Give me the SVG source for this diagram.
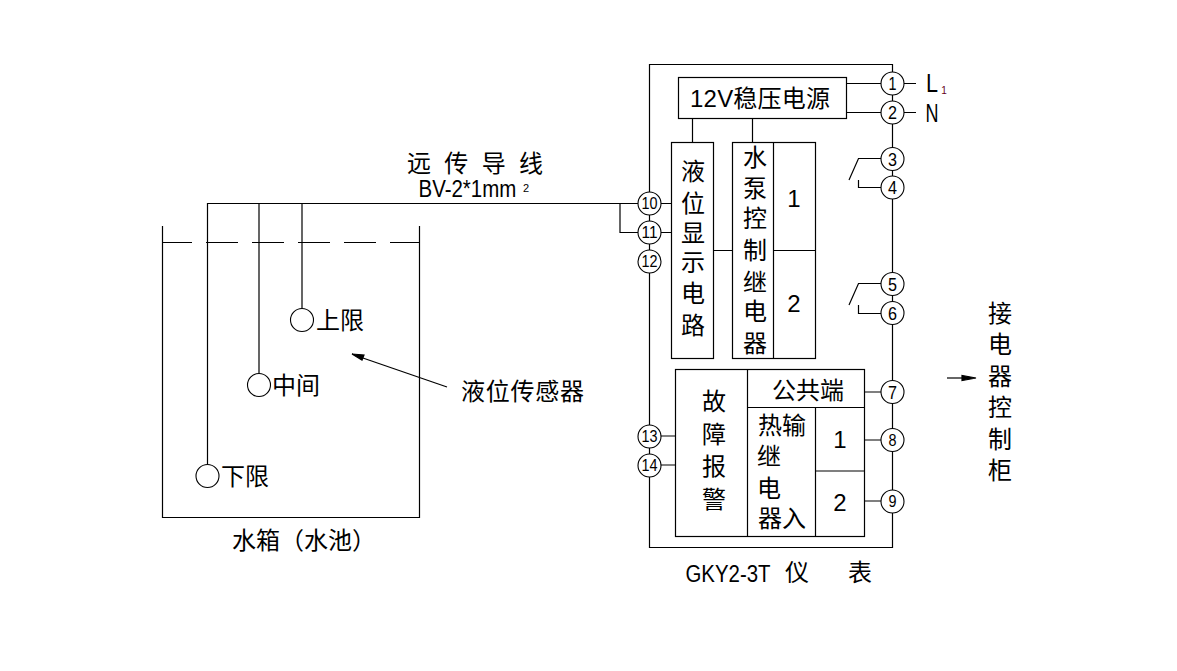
<svg xmlns="http://www.w3.org/2000/svg" width="1177" height="671" viewBox="0 0 1177 671">
<style>
.l{fill:none;stroke:#000;stroke-width:1.2}
.b{fill:#fff;stroke:#000;stroke-width:1.2}
.c{fill:#fff;stroke:#000;stroke-width:1.1}
text{font-family:"Liberation Sans","Noto Sans CJK SC",sans-serif;fill:#000;font-size:24px;text-anchor:middle}
.n{font-size:19px}
.s{font-size:16px}
</style>
<rect width="1177" height="671" fill="#fff"/>
<g id="connectors" class="l">
<path d="M649.500 64.500H892.500V547.500H649.500Z"/>
<path d="M846 83.500H881M846 112.500H881M903 83.500H916M903 112.500H916"/>
<path d="M692.500 118V142M752.500 118V142M713 250.500H732"/>
<path d="M207.500 464V203.500H638M259 373V203.500M302 308V203.500M620 203.500V232.500H638"/>
<path d="M660 203.500H671M660 232.500H671"/>
<path d="M881 158.500H858.500L849 180M858.500 180V187.500H881M881 283.500H858.500L849 305M858.500 305V313.500H881"/>
<path d="M660 436H682L693 460M660 465H682M682 461V465"/>
<path d="M864 392H881M864 440H881M864 501H881"/>
<path d="M447 387L360 357"/>
<path d="M947 378H966"/>
<path d="M162.500 226V517.500H419.500V226"/>
<path d="M162.500 242.500H192M206 242.500H238M252 242.500H284M298 242.500H330M344 242.500H376M390 242.500H419"/>
<path d="M352 354L364 355L362 360Z" fill="#000"/>
<path d="M976 378L962 375.500V380.500Z" fill="#000"/>
</g>
<g id="power"><rect class="b" x="678.500" y="77.500" width="168" height="41"/><text x="760" y="107" textLength="140">12V稳压电源</text></g>
<g id="display"><rect class="b" x="671.500" y="142.500" width="42" height="216"/>
<text x="693" y="180">液</text><text x="693" y="212">位</text><text x="693" y="242">显</text><text x="693" y="271">示</text><text x="693" y="302">电</text><text x="693" y="334">路</text></g>
<g id="relay"><rect class="b" x="732.500" y="142.500" width="83" height="216"/>
<path class="l" d="M773.500 142.500V358.500M773.500 250.500H815.500"/>
<text x="755" y="166">水</text><text x="755" y="197">泵</text><text x="755" y="227">控</text><text x="755" y="259">制</text><text x="755" y="291">继</text><text x="755" y="320">电</text><text x="755" y="352">器</text>
<text x="794" y="207">1</text><text x="794" y="312">2</text></g>
<g id="alarm"><rect class="b" x="675.500" y="369.500" width="189" height="167"/>
<path class="l" d="M747.500 369.500V536.500M747.500 407.500H864.500M815.500 407.500V536.500M815.500 471H864.500"/>
<text x="714" y="410">故</text><text x="714" y="443">障</text><text x="714" y="475">报</text><text x="714" y="508">警</text>
<text x="808" y="399">公共端</text>
<text x="782" y="434">热输</text><text x="769" y="465">继</text><text x="769" y="497">电</text><text x="782" y="527">器入</text>
<text x="840" y="448">1</text><text x="840" y="511">2</text></g>
<g id="terminals">
<g id="t1"><circle class="c" cx="892.500" cy="83.500" r="11.500"/><text class="n" x="892.500" y="90" textLength="8" lengthAdjust="spacingAndGlyphs">1</text></g>
<g id="t2"><circle class="c" cx="892.500" cy="112.500" r="11.500"/><text class="n" x="892.500" y="119" textLength="9" lengthAdjust="spacingAndGlyphs">2</text></g>
<g id="t3"><circle class="c" cx="892.500" cy="159" r="11.500"/><text class="n" x="892.500" y="165.500" textLength="9" lengthAdjust="spacingAndGlyphs">3</text></g>
<g id="t4"><circle class="c" cx="892.500" cy="187.500" r="11.500"/><text class="n" x="892.500" y="194" textLength="9" lengthAdjust="spacingAndGlyphs">4</text></g>
<g id="t5"><circle class="c" cx="892.500" cy="284" r="11.500"/><text class="n" x="892.500" y="290.500" textLength="9" lengthAdjust="spacingAndGlyphs">5</text></g>
<g id="t6"><circle class="c" cx="892.500" cy="313" r="11.500"/><text class="n" x="892.500" y="319.500" textLength="9" lengthAdjust="spacingAndGlyphs">6</text></g>
<g id="t7"><circle class="c" cx="892.500" cy="392" r="11.500"/><text class="n" x="892.500" y="398.500" textLength="9" lengthAdjust="spacingAndGlyphs">7</text></g>
<g id="t8"><circle class="c" cx="892.500" cy="440" r="11.500"/><text class="s" x="892.500" y="445.500" textLength="8" lengthAdjust="spacingAndGlyphs">8</text></g>
<g id="t9"><circle class="c" cx="892.500" cy="501.500" r="11.500"/><text class="s" x="892.500" y="507" textLength="8" lengthAdjust="spacingAndGlyphs">9</text></g>
<g id="t10"><circle class="c" cx="649.500" cy="203.500" r="11.500"/><text class="s" x="649.500" y="209" textLength="16" lengthAdjust="spacingAndGlyphs">10</text></g>
<g id="t11"><circle class="c" cx="649.500" cy="232.500" r="11.500"/><text class="s" x="649.500" y="238" textLength="16" lengthAdjust="spacingAndGlyphs">11</text></g>
<g id="t12"><circle class="c" cx="649.500" cy="261.500" r="11.500"/><text class="s" x="649.500" y="267" textLength="16" lengthAdjust="spacingAndGlyphs">12</text></g>
<g id="t13"><circle class="c" cx="649.500" cy="436.500" r="11.500"/><text class="s" x="649.500" y="442" textLength="16" lengthAdjust="spacingAndGlyphs">13</text></g>
<g id="t14"><circle class="c" cx="649.500" cy="465.500" r="11.500"/><text class="s" x="649.500" y="471" textLength="16" lengthAdjust="spacingAndGlyphs">14</text></g>
</g>
<g id="sensors">
<g id="lower"><circle class="c" cx="207.500" cy="476" r="11.500"/><text x="245" y="485">下限</text></g>
<g id="middle"><circle class="c" cx="259" cy="385" r="11.500"/><text x="296" y="394">中间</text></g>
<g id="upper"><circle class="c" cx="302" cy="320" r="11.500"/><text x="340" y="329">上限</text></g>
</g>
<g id="labels">
<text x="475" y="172" textLength="136" lengthAdjust="spacing">远 传 导 线</text>
<text transform="translate(418.500 197) scale(0.89 1)" style="font-size:23px;text-anchor:start">BV-2*1mm</text>
<text x="526" y="192" style="font-size:11px">2</text>
<text x="522.500" y="400" textLength="123">液位传感器</text>
<text x="304" y="549">水箱（水池）</text>
<text x="932" y="92" style="font-size:25px" textLength="12" lengthAdjust="spacingAndGlyphs">L</text>
<text x="944" y="94" style="font-size:10px;fill:#602">1</text>
<text x="932" y="122" style="font-size:25px" textLength="13" lengthAdjust="spacingAndGlyphs">N</text>
<text x="728" y="582" style="font-size:23px" textLength="85" lengthAdjust="spacingAndGlyphs">GKY2-3T</text>
<text x="797" y="581">仪</text><text x="860" y="581">表</text>
<text x="1000" y="322">接</text><text x="1000" y="353">电</text><text x="1000" y="385">器</text><text x="1000" y="416">控</text><text x="1000" y="448">制</text><text x="1000" y="479">柜</text>
</g>
</svg>
